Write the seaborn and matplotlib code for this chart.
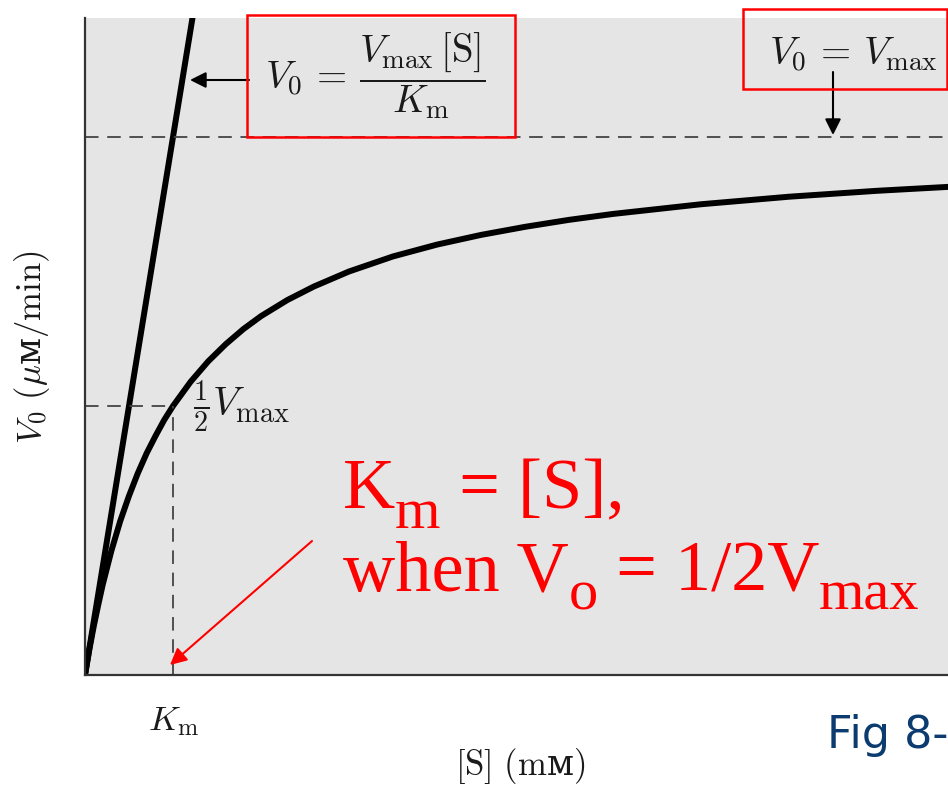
import matplotlib
matplotlib.use("Agg")
import matplotlib.pyplot as plt
import seaborn as sns
import pandas as pd
from matplotlib.patches import Rectangle

# ---- data (Km = 1, Vmax = 1 units) ----
substrate = [0, 0.05, 0.1, 0.15, 0.2, 0.3, 0.4, 0.5, 0.6, 0.7, 0.8, 0.9, 1.0,
             1.2, 1.4, 1.6, 1.8, 2.0, 2.3, 2.6, 3.0, 3.5, 4.0, 4.5, 5.0, 5.5,
             6.0, 7.0, 8.0, 9.0, 10.0]
velocity = [0, 0.048, 0.091, 0.130, 0.167, 0.231, 0.286, 0.333, 0.375, 0.412,
            0.444, 0.474, 0.5, 0.545, 0.583, 0.615, 0.643, 0.667, 0.697, 0.722,
            0.75, 0.778, 0.8, 0.818, 0.833, 0.846, 0.857, 0.875, 0.889, 0.9,
            0.909]
linear_s = [0, 1.3]
linear_v = [0, 1.3]
v_max = 1.0
k_m = 1.0
half_v = 0.5

W, H = 948, 789


def P(x, y):
    return (x / W, 1 - y / H)


sns.set_theme(style="white")
fig = plt.figure(figsize=(W / 100, H / 100), dpi=100)
ax = fig.add_axes([85 / W, 1 - 675 / H, 863 / W, 657 / H])
ax.set_facecolor("#e5e5e5")

curve = pd.DataFrame({"S": substrate, "V": velocity})
lin = pd.DataFrame({"S": linear_s, "V": linear_v})
sns.lineplot(data=curve, x="S", y="V", ax=ax, color="black", lw=4.3, sort=False,
             solid_joinstyle="round", solid_capstyle="round")
sns.lineplot(data=lin, x="S", y="V", ax=ax, color="black", lw=4.3, sort=False)

dash = (0, (7.5, 4.8))
ax.axhline(v_max, color="#444444", lw=1.3, ls=dash)
ax.plot([0, k_m], [half_v, half_v], color="#444444", lw=1.3, ls=dash)
ax.plot([k_m, k_m], [0, half_v], color="#444444", lw=1.3, ls=dash)

ax.set_xlim(0, 863 / 88)
ax.set_ylim(0, 657 / 538)
ax.set_xticks([])
ax.set_yticks([])
ax.set_xlabel("")
ax.set_ylabel("")
for s in ["top", "right"]:
    ax.spines[s].set_visible(False)
for s in ["left", "bottom"]:
    ax.spines[s].set_color("#333333")
    ax.spines[s].set_linewidth(1.6)

serif = ["DejaVu Serif", "DejaVu Sans"]
ink = "#1a1a1a"

# formula box 1
fig.text(*P(375, 76), r"$V_0\,=\,\dfrac{V_{\max}\,[\mathrm{S}]}{K_{\mathrm{m}}}$",
         fontsize=28, math_fontfamily="cm", ha="center", va="center", color=ink)
fig.add_artist(Rectangle(P(247, 137), (515 - 247) / W, (137 - 15) / H,
                         transform=fig.transFigure, fill=False, ec="red", lw=1.8))
ax.annotate("", xy=P(190, 80), xytext=P(249, 80), xycoords="figure fraction",
            textcoords="figure fraction",
            arrowprops=dict(arrowstyle="-|>", color="black", lw=1.5,
                            mutation_scale=24, shrinkA=0, shrinkB=0))

# formula box 2
fig.text(*P(853, 65), r"$V_0\,=\,V_{\max}$", fontsize=28, math_fontfamily="cm",
         ha="center", va="baseline", color=ink)
fig.add_artist(Rectangle(P(743, 89), (947 - 743) / W, (89 - 9) / H,
                         transform=fig.transFigure, fill=False, ec="red", lw=1.8))
ax.annotate("", xy=P(833, 135), xytext=P(833, 72), xycoords="figure fraction",
            textcoords="figure fraction",
            arrowprops=dict(arrowstyle="-|>", color="black", lw=1.5,
                            mutation_scale=24, shrinkA=0, shrinkB=0))

# half vmax label
fig.text(*P(193, 416), r"$\frac{1}{2}V_{\max}$", fontsize=29, math_fontfamily="cm",
         ha="left", va="baseline", color=ink)

# Km tick label
fig.text(*P(174, 730), r"$K_{\mathrm{m}}$", fontsize=25, math_fontfamily="cm",
         ha="center", va="baseline", color=ink)

# axis labels
fig.text(*P(520, 766), r"$[\mathrm{S}]\ (\mathrm{m}$ᴍ$)$", fontsize=25,
         family=serif, math_fontfamily="cm", ha="center", va="center", color=ink)
fig.text(*P(32, 347), r"$V_0\ (\mu$ᴍ$/\mathrm{min})$", fontsize=25, rotation=90,
         family=serif, math_fontfamily="cm", ha="center", va="center", color=ink)

# red annotation built from pieces (big subscripts like the reference)
renderer = fig.canvas.get_renderer()


def run(pieces, x0, base):
    x = x0
    for txt, sub in pieces:
        size = 42 if sub else 52
        y = base + (20 if sub else 0)
        t = fig.text(x / W, 1 - y / H, txt, fontsize=size, color="red",
                     family="Liberation Serif", ha="left", va="baseline")
        bb = t.get_window_extent(renderer)
        x = bb.x1


run([("K", False), ("m", True), (" = [S],", False)], 343, 508)
run([("when V", False), ("o", True), (" = 1/2V", False), ("max", True)], 343, 590)

ax.annotate("", xy=P(170, 665), xytext=P(312, 541), xycoords="figure fraction",
            textcoords="figure fraction",
            arrowprops=dict(arrowstyle="-|>", color="red", lw=1.5,
                            mutation_scale=25, shrinkA=0, shrinkB=0))

fig.text(*P(827, 748), "Fig 8-", fontsize=32, color="#0b3b6f",
         family="DejaVu Sans", ha="left", va="baseline")

fig.savefig("out.png", dpi=100)
